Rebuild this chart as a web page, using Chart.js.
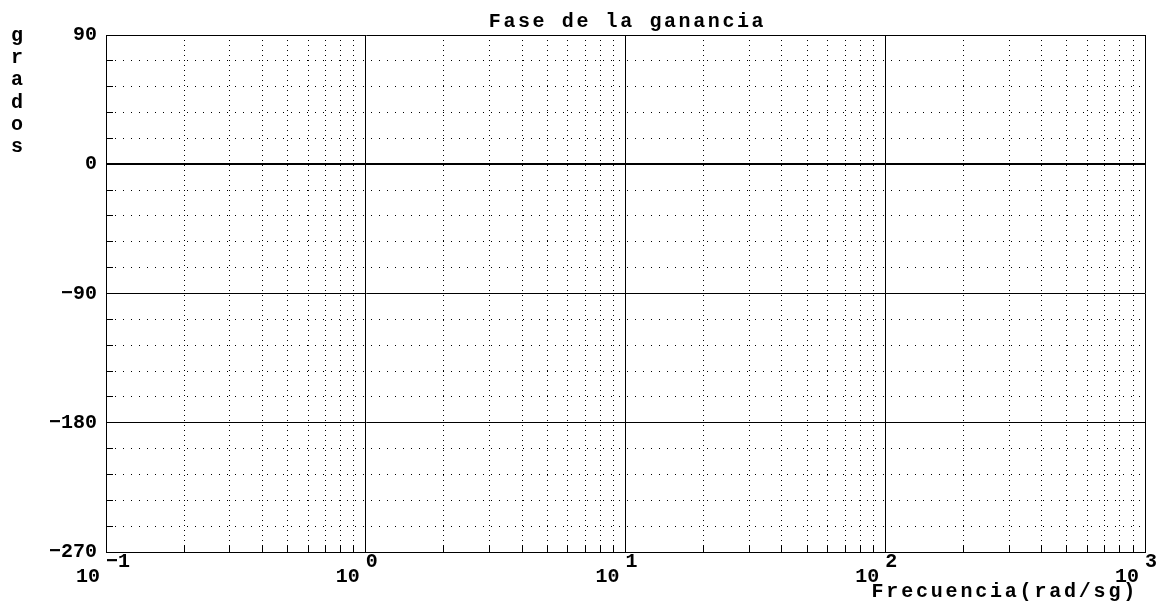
<!DOCTYPE html>
<html>
<head>
<meta charset="utf-8">
<script src="https://cdn.jsdelivr.net/npm/chart.js@4.4.0/dist/chart.umd.min.js"></script>
<style>
  html, body { margin: 0; padding: 0; background: #fff; }
  #wrap { width: 1166px; height: 614px; }
</style>
</head>
<body>
<div id="wrap"><canvas id="chart"></canvas></div>
<script>
// axis data
const decades = [0.1, 1, 10, 100, 1000];
const exponents = ['−1', '0', '1', '2', '3'];
const minorFactors = [2, 3, 4, 5, 6, 7, 8, 9];
const yMajor = [90, 0, -90, -180, -270];
const yMajorLabels = ['90', '0', '−90', '−180', '−270'];
const yMinor = [72, 54, 36, 18, -18, -36, -54, -72, -108, -126, -144, -162, -198, -216, -234, -252];
const phaseSeries = []; // the reference plot has no curve drawn
const titleText = 'Fase de la ganancia';
const xTitleText = 'Frecuencia(rad/sg)';
const yTitleText = 'grados';

const FONT = '"Liberation Mono", "DejaVu Sans Mono", monospace';

const xMinor = [];
decades.slice(0, -1).forEach(d => minorFactors.forEach(f => xMinor.push(d * f)));
const xAll = decades.concat(xMinor).sort((a, b) => a - b);
const yAll = yMajor.concat(yMinor).sort((a, b) => a - b);

const isDecade = (v) => Math.abs(Math.log10(v) - Math.round(Math.log10(v))) < 1e-9;

// two-line label: exponent raised just right of the tick, "10" to the left
const xLabel = (v) => {
    const i = decades.findIndex(d => Math.abs(d - v) < 1e-9 * d);
    if (i < 0) return '';
    const e = exponents[i];
    return ['  ' + e.padEnd(2, ' '), '10   '];
};

const yLabel = (v) => {
    const i = yMajor.indexOf(v);
    return i < 0 ? '' : yMajorLabels[i];
};

const overlay = {
    id: 'overlay',
    afterDraw: (chart) => {
        const {ctx, chartArea: a} = chart;
        const x = chart.scales.x, y = chart.scales.y;
        ctx.save();
        // short solid ticks inside the left and bottom axes
        ctx.strokeStyle = '#000';
        ctx.lineWidth = 1;
        ctx.setLineDash([]);
        ctx.beginPath();
        yMinor.forEach(v => {
            const py = Math.round(y.getPixelForValue(v) - 0.5) + 0.5;
            ctx.moveTo(a.left, py);
            ctx.lineTo(a.left + 7, py);
        });
        xMinor.forEach(v => {
            const px = Math.round(x.getPixelForValue(v) - 0.5) + 0.5;
            ctx.moveTo(px, a.bottom);
            ctx.lineTo(px, a.bottom - 6);
        });
        ctx.stroke();

        ctx.fillStyle = '#000';
        ctx.font = 'bold 20px ' + FONT;
        ctx.textBaseline = 'alphabetic';
        if ('letterSpacing' in ctx) ctx.letterSpacing = '2.6px';
        ctx.textAlign = 'center';
        ctx.fillText(titleText, (a.left + a.right) / 2 + 2, 27);
        if ('letterSpacing' in ctx) ctx.letterSpacing = '2.8px';
        ctx.textAlign = 'right';
        ctx.fillText(xTitleText, 1138, 597);
        if ('letterSpacing' in ctx) ctx.letterSpacing = '0px';
        ctx.textAlign = 'center';
        yTitleText.split('').forEach((ch, i) => {
            ctx.fillText(ch, 17, 41 + i * 22.2);
        });
        ctx.restore();
    }
};

const chart = new Chart(
    document.getElementById('chart'),
    {
        type: 'scatter',
        plugins: [overlay],
        data: {
            datasets: [{
                label: 'fase',
                data: phaseSeries,
                borderColor: '#000',
                showLine: true,
                pointRadius: 0
            }]
        },
        options: {
            responsive: true,
            maintainAspectRatio: false,
            animation: false,
            layout: { padding: { top: 35, right: 21, bottom: 0, left: 0 } },
            plugins: {
                legend: { display: false },
                title: { display: false },
                tooltip: { enabled: false }
            },
            scales: {
                x: {
                    type: 'logarithmic',
                    min: 0.1,
                    max: 1000,
                    afterBuildTicks: (scale) => { scale.ticks = xAll.map(v => ({ value: v })); },
                    afterFit: (scale) => {
                        scale.height = 62;
                        scale.paddingLeft = 0;
                        scale.paddingRight = 0;
                    },
                    grid: {
                        color: '#000',
                        lineWidth: 1,
                        drawTicks: false
                    },
                    border: {
                        display: true,
                        color: '#000',
                        width: 1,
                        dash: (c) => (c.tick && !isDecade(c.tick.value)) ? [1, 4] : []
                    },
                    ticks: {
                        autoSkip: false,
                        maxRotation: 0,
                        minRotation: 0,
                        padding: 2,
                        color: '#000',
                        font: { family: FONT, size: 20, weight: 'bold', lineHeight: 0.75 },
                        callback: (v) => xLabel(v)
                    }
                },
                y: {
                    type: 'linear',
                    min: -270,
                    max: 90,
                    afterBuildTicks: (scale) => { scale.ticks = yAll.map(v => ({ value: v })); },
                    afterFit: (scale) => {
                        scale.width = 106;
                        scale.paddingTop = 0;
                        scale.paddingBottom = 0;
                    },
                    grid: {
                        color: '#000',
                        lineWidth: (c) => (c.tick && c.tick.value === 0) ? 2 : 1,
                        drawTicks: false
                    },
                    border: {
                        display: true,
                        color: '#000',
                        width: 1,
                        dash: (c) => (c.tick && c.tick.value % 90 !== 0) ? [1, 7] : []
                    },
                    ticks: {
                        autoSkip: false,
                        padding: 9,
                        color: '#000',
                        font: { family: FONT, size: 20, weight: 'bold' },
                        callback: (v) => yLabel(v)
                    }
                }
            }
        }
    }
);
</script>
</body>
</html>
